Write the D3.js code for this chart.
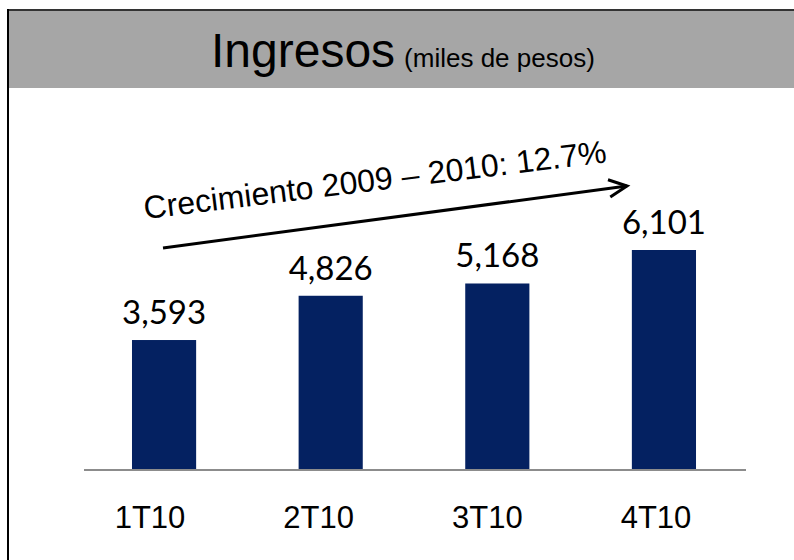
<!DOCTYPE html>
<html>
<head>
<meta charset="utf-8">
<script src="https://cdn.jsdelivr.net/npm/d3@7"></script>
<style>
  body { margin: 0; background: #fff; }
  svg { display: block; }
</style>
</head>
<body>
<div id="app"></div>
<script>
const quarters = ["1T10", "2T10", "3T10", "4T10"];
const ingresos = [3593, 4826, 5168, 6101];
const growthLabel = "Crecimiento 2009 \u2013 2010: 12.7%";

const width = 794, height = 560;
const baseY = 469;
const arial = "'Liberation Sans', Arial, sans-serif";

const svg = d3.select("#app").append("svg")
  .attr("width", width)
  .attr("height", height);

// header band + frame
svg.append("rect")
  .attr("x", 8).attr("y", 10)
  .attr("width", width - 8).attr("height", 78)
  .attr("fill", "#a6a6a6");
svg.append("line")
  .attr("x1", 7).attr("x2", width).attr("y1", 10).attr("y2", 10)
  .attr("stroke", "#333").attr("stroke-width", 2);
svg.append("line")
  .attr("x1", 8).attr("x2", 8).attr("y1", 9).attr("y2", height)
  .attr("stroke", "#000").attr("stroke-width", 2);

const title = svg.append("text")
  .attr("x", 211).attr("y", 67)
  .attr("font-family", arial)
  .attr("fill", "#000");
title.append("tspan").attr("font-size", 48).text("Ingresos");
title.append("tspan").attr("font-size", 26).attr("dx", 9).text("(miles de pesos)");

const x = d3.scaleBand()
  .domain(quarters)
  .range([82, 746])
  .paddingInner(0.615)
  .paddingOuter(0.3);

// category labels sit a little left of the bar centres in the original
const xLabel = d3.scalePoint()
  .domain(quarters)
  .range([150, 656]);

const y = d3.scaleLinear()
  .domain([0, 6101])
  .range([baseY, 250]);

svg.append("g")
  .selectAll("rect")
  .data(ingresos)
  .join("rect")
  .attr("x", (d, i) => x(quarters[i]))
  .attr("y", d => y(d))
  .attr("width", x.bandwidth())
  .attr("height", d => baseY - y(d))
  .attr("fill", "#042161");

svg.append("line")
  .attr("x1", 84).attr("x2", 746)
  .attr("y1", baseY + 1).attr("y2", baseY + 1)
  .attr("stroke", "#8c8c8c").attr("stroke-width", 2);

svg.append("g")
  .selectAll("text")
  .data(ingresos)
  .join("text")
  .attr("x", (d, i) => x(quarters[i]) + x.bandwidth() / 2)
  .attr("y", d => y(d) - 16)
  .attr("text-anchor", "middle")
  .attr("font-family", "Lato, 'Open Sans', sans-serif")
  .attr("font-size", 33)
  .attr("fill", "#000")
  .text(d => d3.format(",")(d));

svg.append("g")
  .selectAll("text")
  .data(quarters)
  .join("text")
  .attr("x", d => xLabel(d))
  .attr("y", 528)
  .attr("text-anchor", "middle")
  .attr("font-family", arial)
  .attr("font-size", 31)
  .attr("fill", "#000")
  .text(d => d);

// growth arrow
const ax1 = 163, ay1 = 248, ax2 = 627, ay2 = 186;
svg.append("line")
  .attr("x1", ax1).attr("y1", ay1).attr("x2", ax2).attr("y2", ay2)
  .attr("stroke", "#000").attr("stroke-width", 3);
const ang = Math.atan2(ay2 - ay1, ax2 - ax1);
const head = 20, spread = 0.45;
svg.append("path")
  .attr("d", `M${ax2 - head * Math.cos(ang - spread)},${ay2 - head * Math.sin(ang - spread)}L${ax2},${ay2}L${ax2 - head * Math.cos(ang + spread)},${ay2 - head * Math.sin(ang + spread)}`)
  .attr("fill", "none").attr("stroke", "#000").attr("stroke-width", 3);

svg.append("text")
  .attr("transform", "translate(145,219) rotate(-7)")
  .attr("font-family", arial)
  .attr("font-size", 32)
  .attr("fill", "#000")
  .text(growthLabel);
</script>
</body>
</html>
